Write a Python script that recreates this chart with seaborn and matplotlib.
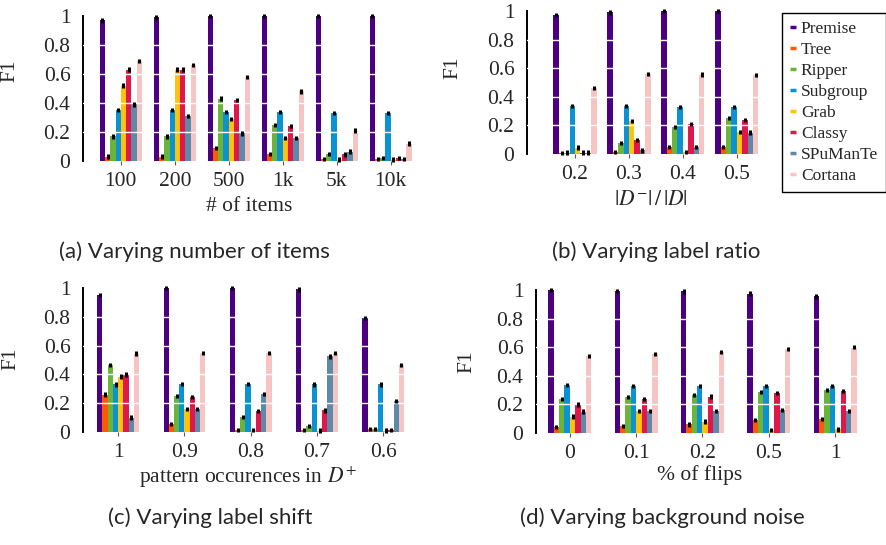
import matplotlib
matplotlib.use("Agg")
import matplotlib.pyplot as plt
import seaborn as sns
import pandas as pd
from matplotlib.lines import Line2D
from matplotlib.container import BarContainer

# ---------------- data ----------------
methods = ["Premise", "Tree", "Ripper", "Subgroup", "Grab", "Classy", "SPuManTe", "Cortana"]
colors = ["#4b0082", "#ff5a00", "#6ab43a", "#0a93d4", "#ffc20e", "#e0174a", "#5e8aa9", "#f5c4c3"]

items_cats = ["100", "200", "500", "1k", "5k", "10k"]
items_f1 = [  # rows follow `methods`
    [0.97, 0.99, 1.00, 1.00, 1.00, 1.00],
    [0.03, 0.03, 0.09, 0.05, 0.015, 0.015],
    [0.17, 0.17, 0.43, 0.25, 0.05, 0.02],
    [0.35, 0.35, 0.34, 0.34, 0.33, 0.33],
    [0.52, 0.63, 0.29, 0.16, 0.01, 0.01],
    [0.63, 0.63, 0.42, 0.24, 0.045, 0.02],
    [0.39, 0.31, 0.19, 0.16, 0.065, 0.015],
    [0.69, 0.66, 0.58, 0.48, 0.21, 0.12],
]

ratio_cats = ["0.2", "0.3", "0.4", "0.5"]
ratio_f1 = [
    [0.97, 0.99, 1.00, 1.00],
    [0.005, 0.015, 0.047, 0.047],
    [0.01, 0.075, 0.19, 0.25],
    [0.335, 0.335, 0.33, 0.33],
    [0.045, 0.23, 0.015, 0.155],
    [0.01, 0.10, 0.21, 0.24],
    [0.01, 0.025, 0.05, 0.15],
    [0.46, 0.56, 0.555, 0.55],
]

shift_cats = ["1", "0.9", "0.8", "0.7", "0.6"]
shift_f1 = [
    [0.95, 1.00, 1.00, 0.99, 0.79],
    [0.26, 0.055, 0.015, 0.015, 0.02],
    [0.465, 0.25, 0.105, 0.04, 0.02],
    [0.33, 0.335, 0.335, 0.33, 0.33],
    [0.385, 0.16, 0.015, 0.01, 0.01],
    [0.40, 0.245, 0.145, 0.15, 0.015],
    [0.10, 0.16, 0.265, 0.525, 0.215],
    [0.545, 0.55, 0.55, 0.55, 0.465],
]

noise_cats = ["0", "0.1", "0.2", "0.5", "1"]
noise_f1 = [
    [1.00, 0.995, 0.99, 0.975, 0.955],
    [0.04, 0.05, 0.06, 0.09, 0.10],
    [0.24, 0.25, 0.265, 0.285, 0.30],
    [0.335, 0.33, 0.33, 0.33, 0.33],
    [0.115, 0.155, 0.08, 0.02, 0.025],
    [0.20, 0.24, 0.255, 0.28, 0.295],
    [0.15, 0.155, 0.155, 0.16, 0.155],
    [0.54, 0.55, 0.565, 0.585, 0.60],
]

yticks = [0, 0.2, 0.4, 0.6, 0.8, 1]
ytick_labels = ["0", "0.2", "0.4", "0.6", "0.8", "1"]

# ---------------- style ----------------
sns.set_theme(style="white")
plt.rcParams["font.family"] = ["Liberation Serif", "DejaVu Serif"]
plt.rcParams["mathtext.fontset"] = "stix"

W, H = 887, 545
fig = plt.figure(figsize=(W / 100, H / 100), dpi=100)
ERR = 0.015
FS = 15.5


def px_rect(left, right, top, bottom):
    return [left / W, (H - bottom) / H, (right - left) / W, (bottom - top) / H]


def panel(rect_px, cats, rows, width, xlim, xlabel, xlab_xy, ylab_xy, caption, cap_xy):
    df = pd.DataFrame(
        [{"cat": c, "method": m, "f1": v}
         for m, row in zip(methods, rows) for c, v in zip(cats, row)]
    )
    ax = fig.add_axes(px_rect(*rect_px))
    sns.barplot(data=df, x="cat", y="f1", hue="method", order=cats,
                hue_order=methods, palette=colors, width=width, gap=0,
                errorbar=None, linewidth=0, saturation=1, legend=False, ax=ax)
    bar_conts = [c for c in ax.containers if isinstance(c, BarContainer)]
    for cont in bar_conts:
        xs = [b.get_x() + b.get_width() / 2 for b in cont]
        ys = [b.get_height() for b in cont]
        eb = ax.errorbar(xs, ys, yerr=ERR, fmt="none", ecolor="black",
                         elinewidth=2.2, capsize=0, zorder=4)
        for art in eb.lines[2]:
            art.set_clip_on(False)
    for g in [0.2, 0.4, 0.6, 0.8]:
        ax.axhline(g, color="white", lw=1.0, zorder=3)
    ax.set_ylim(0, 1)
    ax.set_xlim(*xlim)
    ax.set_yticks(yticks)
    ax.set_yticklabels(ytick_labels)
    for s in ["top", "right", "bottom"]:
        ax.spines[s].set_visible(False)
    ax.spines["left"].set_color("black")
    ax.spines["left"].set_linewidth(1.4)
    ax.tick_params(axis="y", left=False, length=0, pad=9, labelsize=FS)
    ax.tick_params(axis="x", bottom=True, length=3, width=0.8, color="0.35",
                   pad=5, labelsize=FS)
    ax.set_xlabel(xlabel, fontsize=FS, va="top")
    ax.xaxis.set_label_coords(*xlab_xy)
    ax.set_ylabel("F1", fontsize=FS)
    ax.yaxis.set_label_coords(*ylab_xy)
    fig.text(cap_xy[0] / W, 1 - cap_xy[1] / H, caption, ha="center", va="center",
             fontsize=16, family=["Lato", "DejaVu Sans"])
    return ax


panel((83, 415, 16, 161), items_cats, items_f1, 0.78, (-0.7, 5.45),
      "# of items", (0.5, -0.25), (-0.19, 0.62),
      "(a) Varying number of items", (194, 252))
panel((527, 760, 11, 154), ratio_cats, ratio_f1, 0.8, (-0.89, 3.43),
      r"$|D^{-}|\,/\,|D|$", (0.53, -0.26), (-0.275, 0.60),
      "(b) Varying label ratio", (656, 252))
panel((83, 406, 288, 432), shift_cats, shift_f1, 0.63, (-0.53, 4.344),
      r"pattern occurences in $D^{+}$", (0.51, -0.225), (-0.195, 0.51),
      "(c) Varying label shift", (210, 518))
panel((536, 857, 290, 433), noise_cats, noise_f1, 0.65, (-0.51, 4.33),
      "% of flips", (0.51, -0.225), (-0.184, 0.50),
      "(d) Varying background noise", (662, 518))

handles = [Line2D([0], [0], color=c, lw=2.5, solid_capstyle="butt") for c in colors]
leg = fig.legend(handles, methods, loc="upper right",
                 bbox_to_anchor=(886 / W, 1 - 13 / H), borderaxespad=0,
                 handlelength=0.35, handletextpad=0.3, labelspacing=0.28,
                 borderpad=0.45, fontsize=12.5, fancybox=False, framealpha=1)
leg.get_frame().set_edgecolor("black")
leg.get_frame().set_linewidth(1.0)

fig.savefig("out.png", dpi=100)
